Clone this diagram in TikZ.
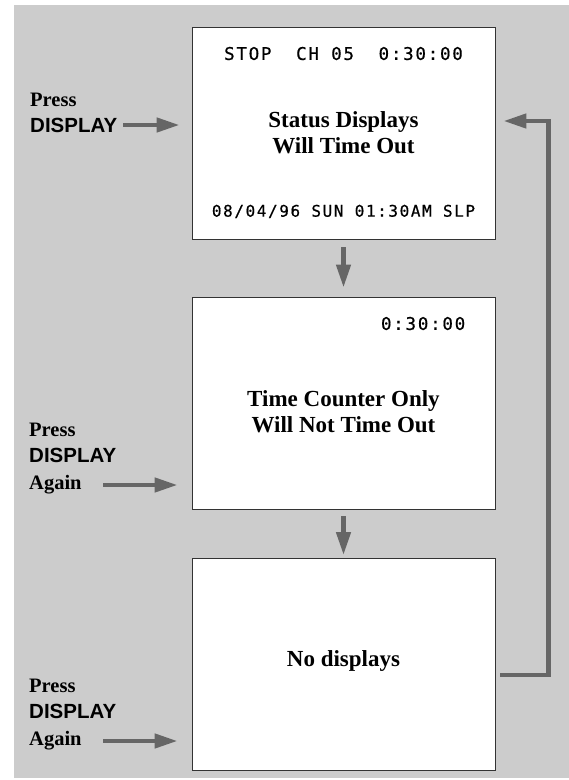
\documentclass[tikz,border=0pt]{standalone}
\usepackage{fontspec}
\setmainfont{Liberation Serif}
\newfontfamily\keyfont{Liberation Sans}
\newfontfamily\lcdfont[LetterSpace=10,FakeBold=0.6]{DejaVu Sans Mono}
\usetikzlibrary{arrows.meta,positioning}
\definecolor{panel}{HTML}{CCCCCC}
\definecolor{flowgray}{HTML}{666666}
\definecolor{boxline}{HTML}{333333}
\begin{document}
\begin{tikzpicture}[x=1pt,y=-1pt,
    screen/.style={draw=boxline,fill=white,line width=0.9pt,minimum width=303pt,minimum height=212pt,inner sep=0pt},
    lcd/.style={font=\lcdfont\fontsize{17.5}{18}\selectfont,inner sep=0pt},
    lcdsmall/.style={font=\lcdfont\fontsize{16}{18}\selectfont,inner sep=0pt},
    msg/.style={font=\bfseries\fontsize{23}{26}\selectfont,align=center,inner sep=0pt},
    press/.style={font=\bfseries\fontsize{20.5}{22}\selectfont,anchor=base west,inner sep=0pt},
    key/.style={font=\keyfont\bfseries\fontsize{20.5}{22}\selectfont,anchor=base west,inner sep=0pt},
    flow/.style={draw=flowgray,line width=4.5pt,-{Triangle[length=23pt,width=14pt]}}]
  \useasboundingbox (0,0) rectangle (569,780);
  \fill[panel] (14,5) rectangle (569,778);
  \node[screen] (box1) at (343.5,133) {};
  \node[screen] (box2) at (343.5,403) {};
  \node[screen] (box3) at (343.5,664.5) {};
  \node[lcd] (status1) at ([yshift=-27pt]box1.north) {STOP\ \ CH 05\ \ 0:30:00};
  \node[msg] (msg1) at (box1.center) {Status Displays\\Will Time Out};
  \node[lcdsmall] (date1) at ([yshift=28pt]box1.south) {08/04/96 SUN 01:30AM SLP};
  \node[lcd,anchor=east] (status2) at ([xshift=-30pt,yshift=-27pt]box2.north east) {0:30:00};
  \node[msg] (msg2) at ([yshift=-9pt]box2.center) {Time Counter Only\\Will Not Time Out};
  \node[msg] (msg3) at ([yshift=4pt]box3.center) {No displays};
  \node[press] (press1) at (30,106) {Press};
  \node[key] (key1) at (30,132) {DISPLAY};
  \node[press] (press2) at (29,436) {Press};
  \node[key] (key2) at (29,462) {DISPLAY};
  \node[press] (again2) at (29,489) {Again};
  \node[press] (press3) at (29,692) {Press};
  \node[key] (key3) at (29,718) {DISPLAY};
  \node[press] (again3) at (29,745) {Again};
  \coordinate (in1) at (123,125);
  \coordinate (in2) at (103,485);
  \coordinate (in3) at (103,741);
  \coordinate (back) at ([xshift=53pt,yshift=12pt]box1.east);
  \draw[flow,shorten >=12pt] (in1) -- (in1 -| box1.west);
  \draw[flow,shorten >=14pt] (in2) -- (in2 -| box2.west);
  \draw[flow,shorten >=14pt] (in3) -- (in3 -| box3.west);
  \draw[flow,shorten <=8pt,shorten >=9pt] (box1.south) -- (box2.north);
  \draw[flow,shorten <=7pt,shorten >=3pt] (box2.south) -- (box3.north);
  \draw[flow,shorten <=5pt,shorten >=8pt] ([yshift=-10.5pt]box3.east) -| (back) -- (back -| box1.east);
\end{tikzpicture}
\end{document}
